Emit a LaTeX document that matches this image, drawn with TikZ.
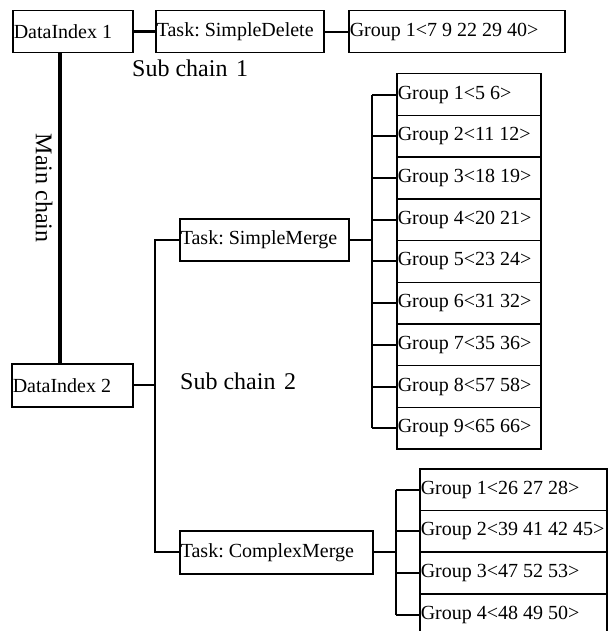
\documentclass[tikz,border=0pt]{standalone}
\usepackage{fontspec}
\setmainfont{Liberation Serif}
\newcommand{\mybx}[2]{\makebox[#1][l]{#2}}
\begin{document}
\frenchspacing
\begin{tikzpicture}[x=1pt,y=-1pt,
  box/.style={draw, line width=1.5pt, inner xsep=1pt, inner ysep=0pt,
    minimum height=42pt, anchor=north west,
    font=\fontsize{20}{22}\selectfont},
  grp/.style={box, minimum height=41.7pt},
  lbl/.style={inner sep=0pt, font=\fontsize{24}{26}\selectfont},
  mainln/.style={line width=4.5pt},
  thickln/.style={line width=3pt},
  conn/.style={line width=2pt},
  barln/.style={line width=2.3pt}]
\useasboundingbox (0,0) rectangle (608,631);

% top row
\node[box] (di1) at (12,10) {\mybx{118pt}{DataIndex 1}};
\node[box] (sd) at (155,10) {\mybx{166pt}{Task: SimpleDelete}};
\node[box] (g0) at (348,10) {\mybx{214pt}{Group 1<7 9 22 29 40>}};
\draw[thickln] (di1.east) -- (sd.west);
\draw[conn] (sd.east) -- (g0.west);
\node[lbl, anchor=west] (sc1) at (132,68.5) {Sub chain\hspace{0.36em}1};

% main chain
\coordinate (mx) at (60,0);
\node[box, minimum height=43pt] (di2) at (11,363) {\mybx{119pt}{DataIndex 2}};
\draw[mainln] (di1.south -| mx) -- (di2.north -| mx);
\node[lbl, rotate=-90] (mc) at (44,188) {Main chain};

% sub chain 2
\coordinate (b1) at (155,0);
\node[box] (sm) at (179,218) {\mybx{167pt}{Task: SimpleMerge}};
\node[box, minimum height=43pt] (cm) at (179,530) {\mybx{191pt}{Task: ComplexMerge}};
\draw[conn] (di2.east) -- (di2.east -| b1);
\draw[barln] (sm.west) -| (cm.west -| b1) -- (cm.west);
\node[lbl, anchor=west] (sc2) at (180,381) {Sub chain\hspace{0.36em}2};

% SimpleMerge groups
\coordinate (b2) at (372,0);
\node[grp] (s1) at (396,73.0) {\mybx{142pt}{Group 1<5 6>}};
\node[grp] (s2) at (396,114.7) {\mybx{142pt}{Group 2<11 12>}};
\node[grp] (s3) at (396,156.4) {\mybx{142pt}{Group 3<18 19>}};
\node[grp] (s4) at (396,198.1) {\mybx{142pt}{Group 4<20 21>}};
\node[grp] (s5) at (396,239.8) {\mybx{142pt}{Group 5<23 24>}};
\node[grp] (s6) at (396,281.5) {\mybx{142pt}{Group 6<31 32>}};
\node[grp] (s7) at (396,323.2) {\mybx{142pt}{Group 7<35 36>}};
\node[grp] (s8) at (396,364.9) {\mybx{142pt}{Group 8<57 58>}};
\node[grp] (s9) at (396,406.6) {\mybx{142pt}{Group 9<65 66>}};
\draw[conn] (sm.east) -- (sm.east -| b2);
\draw[barln] (s1.west -| b2) -- (s9.west -| b2);
\foreach \n in {s1,s2,s3,s4,s5,s6,s7,s8,s9}
  \draw[conn] (\n.west -| b2) -- (\n.west);

% ComplexMerge groups
\coordinate (b3) at (396,0);
\node[grp] (c1) at (419,468.0) {\mybx{185pt}{Group 1<26 27 28>}};
\node[grp] (c2) at (419,509.7) {\mybx{185pt}{Group 2<39 41 42 45>}};
\node[grp] (c3) at (419,551.4) {\mybx{185pt}{Group 3<47 52 53>}};
\node[grp] (c4) at (419,593.1) {\mybx{185pt}{Group 4<48 49 50>}};
\draw[conn] (cm.east) -- (cm.east -| b3);
\draw[barln] (c1.west -| b3) -- (c4.west -| b3);
\foreach \n in {c1,c2,c3,c4}
  \draw[conn] (\n.west -| b3) -- (\n.west);
\end{tikzpicture}
\end{document}
